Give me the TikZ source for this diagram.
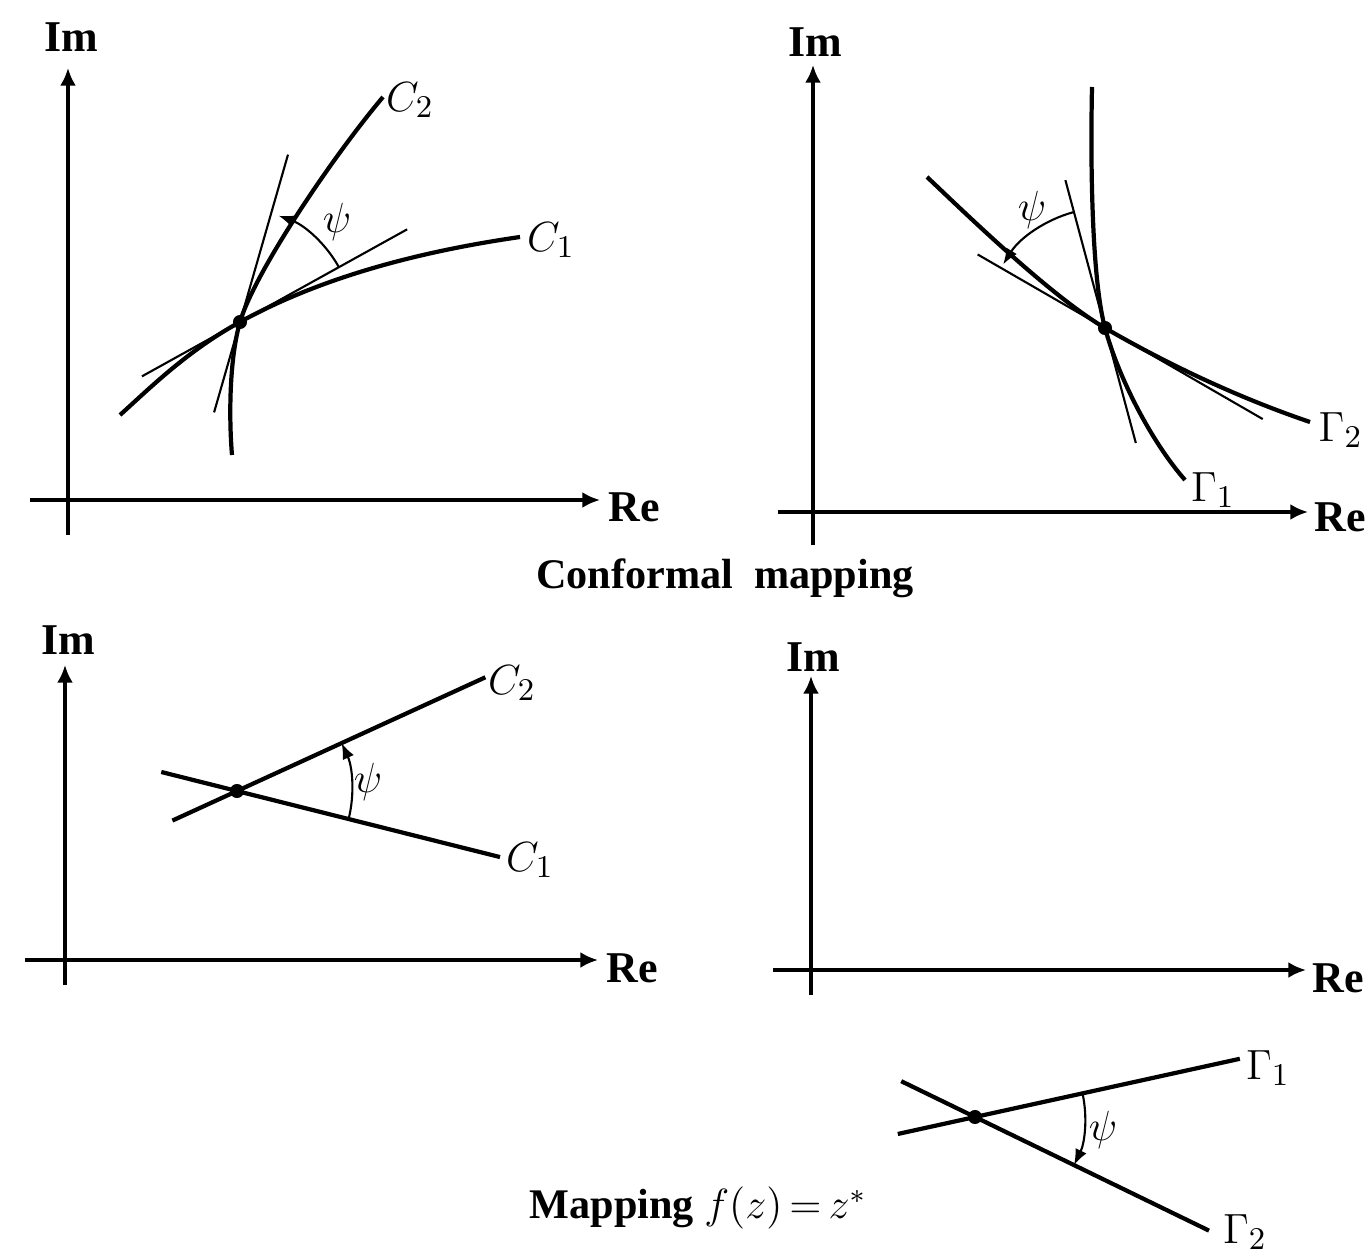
\documentclass[tikz,border=0pt]{standalone}
\usepackage{fontspec}
\setmainfont{Liberation Serif}
\usepackage{tikz}
\usetikzlibrary{arrows.meta, calc, positioning}

\begin{document}
\fontsize{12}{14}\selectfont
\begin{tikzpicture}[x=0.01cm, y=-0.01cm, >=Latex,
  axis/.style={line width=0.9pt,-{Latex[length=5pt,width=4.5pt]}},
  curve/.style={line width=1.2pt},
  tangent/.style={line width=0.6pt},
  anglearc/.style={line width=0.6pt,-{Latex[length=4.5pt,width=3.5pt]}},
  axlbl/.style={font=\bfseries\fontsize{12.5}{14}\selectfont,inner sep=0pt},
  crvlbl/.style={font=\fontsize{13}{15}\selectfont,inner sep=0pt},
  psilbl/.style={font=\fontsize{12}{14}\selectfont,inner sep=0pt},
  caption/.style={font=\bfseries\fontsize{12}{14}\selectfont,inner sep=0pt},
  pt/.style={circle,fill,inner sep=0pt,minimum size=4pt}]
  \useasboundingbox (0,0) rectangle (1367,1255);

  % top left: z plane, curves C1 and C2
  \coordinate (ax1w) at (30,500);  \coordinate (ax1e) at (600,500);
  \coordinate (ax1s) at (68,535);  \coordinate (ax1n) at (68,68);
  \draw[axis] (ax1w) -- (ax1e);
  \draw[axis] (ax1s) -- (ax1n);
  \node[axlbl] (re1) at (634,507) {Re};
  \node[axlbl] (im1) at (71,37) {Im};
  \node[pt] (P) at (240,322) {};
  \coordinate (c1a) at (120,415);  \coordinate (c1b) at (520,237);
  \coordinate (c2a) at (232,455);  \coordinate (c2b) at (383,97);
  \draw[curve] (c1a) .. controls (150,388) and (187,351) .. (P.center)
    .. controls (327,274) and (430,250) .. (c1b);
  \draw[curve] (c2a) .. controls (229,420) and (229,360) .. (P.center)
    .. controls (254,274) and (330,160) .. (c2b);
  \draw[tangent] ($(P)+(209:1.12cm)$) -- ($(P)+(29:1.91cm)$);
  \draw[tangent] ($(P)+(254:0.94cm)$) -- ($(P)+(74:1.74cm)$);
  \draw[anglearc] ($(P)+(29:1.13cm)$) arc[start angle=29, end angle=70, radius=1.13cm];
  \node[crvlbl] (lc1) at (551,240) {$C_1$};
  \node[crvlbl] (lc2) at (410,100) {$C_2$};
  \node[psilbl] (psi1) at (337,222) {$\psi$};

  % top right: w plane, images Gamma1 and Gamma2
  \coordinate (ax2w) at (778,512); \coordinate (ax2e) at (1308,512);
  \coordinate (ax2s) at (813,545); \coordinate (ax2n) at (813,65);
  \draw[axis] (ax2w) -- (ax2e);
  \draw[axis] (ax2s) -- (ax2n);
  \node[axlbl, anchor=west] (re2) at (1314,517) {Re};
  \node[axlbl] (im2) at (815,42) {Im};
  \node[pt] (Q) at (1105,328) {};
  \coordinate (g1a) at (1092,87);  \coordinate (g1b) at (1185,480);
  \coordinate (g2a) at (927,177);  \coordinate (g2b) at (1310,422);
  \draw[curve] (g1a) .. controls (1090,180) and (1093,284) .. (Q.center)
    .. controls (1118,376) and (1150,440) .. (g1b);
  \draw[curve] (g2a) .. controls (962,210) and (1049,295) .. (Q.center)
    .. controls (1174,368) and (1245,400) .. (g2b);
  \draw[tangent] ($(Q)+(150:1.47cm)$) -- ($(Q)+(-30:1.82cm)$);
  \draw[tangent] ($(Q)+(105:1.53cm)$) -- ($(Q)+(-75:1.19cm)$);
  \draw[anglearc] ($(Q)+(105:1.2cm)$) arc[start angle=105, end angle=148, radius=1.2cm];
  \node[crvlbl] (lg1) at (1213,490) {$\Gamma_1$};
  \node[crvlbl, anchor=west] (lg2) at (1318,430) {$\Gamma_2$};
  \node[psilbl] (psi2) at (1032,210) {$\psi$};

  \node[caption] (cap1) at (725,578) {Conformal\ \ mapping};

  % bottom left: z plane, straight lines
  \coordinate (ax3w) at (25,960);  \coordinate (ax3e) at (598,960);
  \coordinate (ax3s) at (65,985);  \coordinate (ax3n) at (65,665);
  \draw[axis] (ax3w) -- (ax3e);
  \draw[axis] (ax3s) -- (ax3n);
  \node[axlbl] (re3) at (632,968) {Re};
  \node[axlbl] (im3) at (68,640) {Im};
  \node[pt] (R) at (237,791) {};
  \draw[curve] ($(R)+(204.6:0.71cm)$) -- ($(R)+(24.6:2.73cm)$);
  \draw[curve] ($(R)+(165.9:0.78cm)$) -- ($(R)+(-14.1:2.71cm)$);
  \draw[anglearc] ($(R)+(-14.1:1.15cm)$) arc[start angle=-14.1, end angle=24.6, radius=1.15cm];
  \node[crvlbl] (ld2) at (512,683) {$C_2$};
  \node[crvlbl] (ld1) at (530,860) {$C_1$};
  \node[psilbl] (psi3) at (368,782) {$\psi$};

  % bottom right: w plane, conjugate image below the real axis
  \coordinate (ax4w) at (773,970); \coordinate (ax4e) at (1306,970);
  \coordinate (ax4s) at (811,995); \coordinate (ax4n) at (811,676);
  \draw[axis] (ax4w) -- (ax4e);
  \draw[axis] (ax4s) -- (ax4n);
  \node[axlbl, anchor=west] (re4) at (1312,978) {Re};
  \node[axlbl] (im4) at (813,657) {Im};
  \node[pt] (S) at (975,1117) {};
  \draw[curve] ($(S)+(192.4:0.79cm)$) -- ($(S)+(12.4:2.71cm)$);
  \draw[curve] ($(S)+(154.1:0.82cm)$) -- ($(S)+(-25.9:2.60cm)$);
  \draw[anglearc] ($(S)+(12.4:1.1cm)$) arc[start angle=12.4, end angle=-25.9, radius=1.1cm];
  \node[crvlbl] (le1) at (1268,1068) {$\Gamma_1$};
  \node[crvlbl] (le2) at (1245,1232) {$\Gamma_2$};
  \node[psilbl] (psi4) at (1103,1130) {$\psi$};

  \node[caption] (cap2) at (698,1208) {Mapping\ $f(z)\,{=}\,z^*$};
\end{tikzpicture}
\end{document}
